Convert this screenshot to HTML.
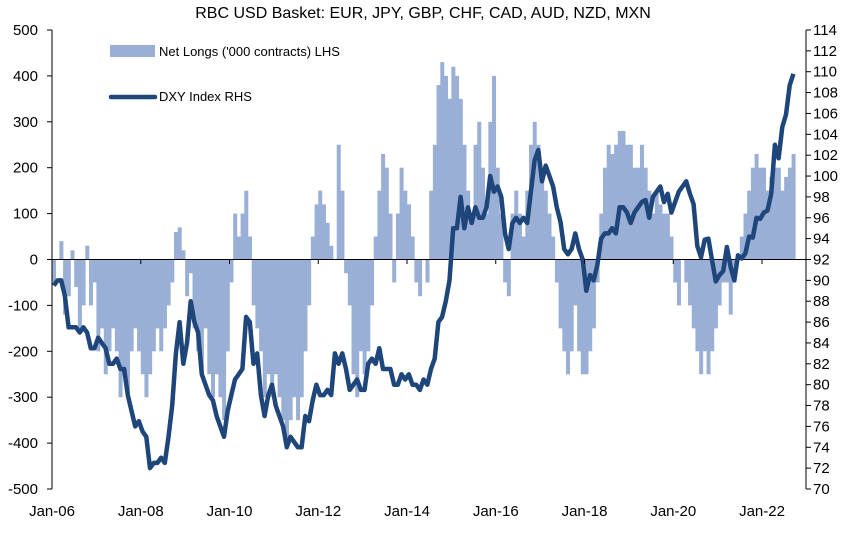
<!DOCTYPE html>
<html><head><meta charset="utf-8"><style>
body{margin:0;background:#fff;}
svg text{font-family:"Liberation Sans Narrow","Liberation Sans",Arial,sans-serif;fill:#000;}
</style></head><body>
<svg width="846" height="532" viewBox="0 0 846 532" xmlns="http://www.w3.org/2000/svg">
<text x="423" y="18" text-anchor="middle" font-size="16">RBC USD Basket: EUR, JPY, GBP, CHF, CAD, AUD, NZD, MXN</text>
<g id="bars"></g>
<line x1="52" x2="806" y1="259.5" y2="259.5" stroke="#000" stroke-width="1"/>
<path id="dxy" fill="none" stroke="#1f467a" stroke-width="4.5" stroke-linejoin="round"/>
<g id="axes"></g>
<rect x="110" y="45" width="45" height="12" fill="#9aafd6"/>
<text x="159" y="56" font-size="13">Net Longs ('000 contracts) LHS</text>
<line x1="111" x2="155" y1="97" y2="97" stroke="#1f467a" stroke-width="4.5" stroke-linecap="round"/>
<text x="159" y="101" font-size="13">DXY Index RHS</text>
</svg>
<script>
const netLongs=[-50,0,40,-120,-80,20,-60,-150,-100,30,-100,-50,
-200,-150,-250,-200,-150,-200,-300,-250,-300,-200,-150,-200,
-250,-300,-250,-200,-150,-200,-150,-100,-50,60,70,20,
-80,-30,-150,-200,-250,-150,-250,-300,-250,-300,-350,-200,
-50,100,50,100,150,50,-100,-150,-200,-300,-250,-300,
-250,-300,-350,-400,-350,-300,-350,-300,-200,-100,50,120,
150,120,80,30,0,250,150,-30,-100,-250,-300,-200,
-250,-200,-100,50,150,230,200,100,-50,100,200,150,
120,50,-50,-80,0,-50,150,250,380,430,400,350,
420,400,350,250,150,100,250,300,200,100,300,400,
200,100,-50,-80,100,150,100,50,150,250,300,250,
200,150,100,50,-50,-150,-200,-250,-200,-100,-200,-250,
-250,-200,-150,-50,100,200,250,230,250,280,280,250,
250,200,200,250,200,150,100,150,120,100,100,50,
-50,-100,0,-50,-100,-150,-200,-250,-200,-250,-200,-150,
-100,-50,-50,-120,-50,0,50,100,150,200,230,200,
200,150,180,200,200,150,180,200,230];
const dxy=[89.5,90,90,88.5,85.5,85.5,85.5,85,85.5,85,83.5,83.5,
84.5,84,83.5,82,82,82.5,81.5,81.5,79,77.5,76,76.5,
75.5,75,72,72.5,72.5,73,72.5,75,78,83,86,82,
84,88,86,85,81,80,79,78.5,77,76,75,77.5,
79,80.5,81,81.5,86.5,86,82,83,79,77,79,80,
78,77,76,74,75,74.5,74,74,77,76.5,78.5,80,
79,79,79.5,79,83,82,83,81.5,79.5,80,80.5,79.5,
79.5,82,82.5,82,83.5,81.5,81.5,81.5,80,80,81,80.5,
81,80,80,79.5,80.5,80,81.5,82.5,86,86.5,88,90,
95,95,98,95,97,95.5,97,96,96,97,100,98.5,
99,98,94.5,93,95.5,96,95.5,96,95.5,98.5,101.5,102.5,
99.5,101,100,99,97,95.6,93,92.5,93,94.5,93,92,
89,90.5,90,91.5,94,94.5,94.5,95,94.5,97,97,96.5,
95.5,96.5,97,97.5,97.7,96,98,98.5,99,97.5,98.3,96.5,
97.5,98.5,99,99.5,98.3,97.3,93.3,92.2,93.9,94,91.9,89.9,
90.5,90.9,93.2,91.3,90,92.4,92.1,92.6,94.2,94.1,96,95.9,
96.5,96.7,98.3,103,101.7,104.7,105.9,108.7,109.8];
const leftTicks=[500,400,300,200,100,0,-100,-200,-300,-400,-500];
const rightTicks=[114,112,110,108,106,104,102,100,98,96,94,92,90,88,86,84,82,80,78,76,74,72,70];
const xLabels=["Jan-06","Jan-08","Jan-10","Jan-12","Jan-14","Jan-16","Jan-18","Jan-20","Jan-22"];
const NS="http://www.w3.org/2000/svg";
const X0=52,X1=806,YT=30,YB=489,monthPx=(762-52)/192;
const xM=m=>X0+m*monthPx;
const yL=v=>YT+(500-v)/1000*(YB-YT);
const yR=v=>YT+(114-v)/44*(YB-YT);
const bars=document.getElementById('bars');
netLongs.forEach((v,i)=>{const r=document.createElementNS(NS,'rect');
r.setAttribute('x',xM(i));r.setAttribute('width',monthPx+0.3);
r.setAttribute('y',Math.min(yL(v),yL(0)));r.setAttribute('height',Math.abs(yL(v)-yL(0)));
r.setAttribute('fill','#9aafd6');


bars.appendChild(r);});
document.getElementById('dxy').setAttribute('d',dxy.map((v,i)=>(i?'L':'M')+xM(i+0.5).toFixed(1)+','+yR(v).toFixed(1)).join(''));
const ax=document.getElementById('axes');
function el(t,a,txt){const e=document.createElementNS(NS,t);for(const k in a)e.setAttribute(k,a[k]);if(txt!==undefined)e.textContent=txt;ax.appendChild(e);return e;}
const la=el('line',{x1:X0,x2:X0,y1:YT,y2:YB,stroke:'#000'});


const ra=el('line',{x1:X1,x2:X1,y1:YT,y2:YB,stroke:'#000'});


leftTicks.forEach(v=>{el('line',{x1:X0-5,x2:X0,y1:yL(v),y2:yL(v),stroke:'#000'});
const t=el('text',{x:38,y:yL(v)+5,'text-anchor':'end','font-size':'15'},v);

});
rightTicks.forEach(v=>{el('line',{x1:X1,x2:X1+5,y1:yR(v),y2:yR(v),stroke:'#000'});
const t=el('text',{x:813,y:yR(v)+5,'font-size':'15'},v);

});
xLabels.forEach((s,i)=>{const x=xM(i*24);el('line',{x1:x,x2:x,y1:259.5,y2:264,stroke:'#000'});
const t=el('text',{x:x,y:516,'text-anchor':'middle','font-size':'15'},s);

});
</script>
</body></html>
